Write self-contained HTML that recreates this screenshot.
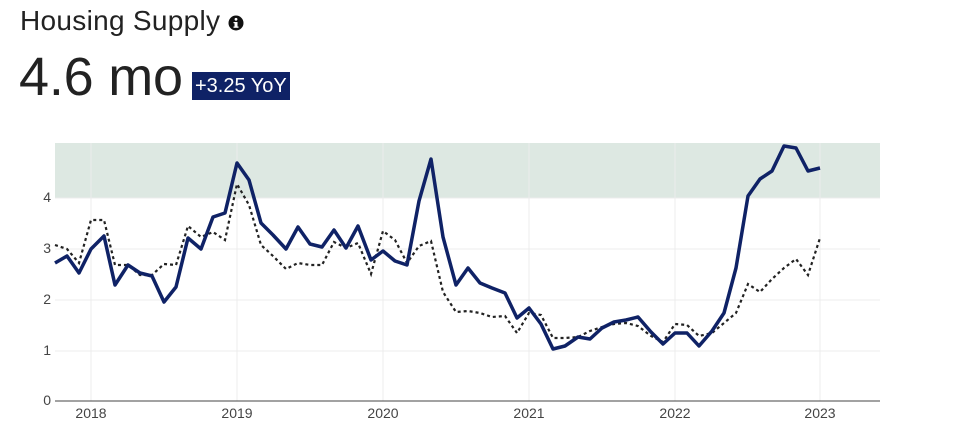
<!DOCTYPE html>
<html><head><style>
body{margin:0;background:#fff;font-family:"Liberation Sans","DejaVu Sans",sans-serif;}
.wrap{position:relative;width:970px;height:446px;overflow:hidden;}
.title{position:absolute;left:20px;top:5px;font-size:28px;color:#222;letter-spacing:0.3px;}
.big{position:absolute;left:19px;top:46px;font-size:54px;color:#222;letter-spacing:-0.2px;}
.badge{position:absolute;left:192px;top:72px;background:#0f2266;color:#fff;font-size:20px;padding:1px 3px;line-height:26px;}
</style></head><body><div class="wrap">
<div class="title">Housing Supply <svg width="16" height="16" viewBox="0 0 16 16" style="vertical-align:-1px"><circle cx="8" cy="8" r="7.5" fill="#111"/><circle cx="8" cy="4.3" r="1.4" fill="#fff"/><rect x="6.5" y="7" width="3" height="5.5" fill="#fff"/><rect x="5.5" y="11.5" width="5" height="1.3" fill="#fff"/><rect x="5.5" y="7" width="2.5" height="1.2" fill="#fff"/></svg></div>
<div class="big">4.6 mo</div>
<div class="badge">+3.25 YoY</div>
<svg width="970" height="446" style="position:absolute;left:0;top:0">
<rect x="55" y="143" width="825" height="55" fill="#dde8e2"/>
<g stroke="#ececec" stroke-width="1">
<line x1="55" x2="880" y1="351" y2="351"/><line x1="55" x2="880" y1="300" y2="300"/><line x1="55" x2="880" y1="249" y2="249"/><line x1="55" x2="880" y1="198" y2="198"/>
<line x1="91" x2="91" y1="143" y2="401"/><line x1="237" x2="237" y1="143" y2="401"/><line x1="383" x2="383" y1="143" y2="401"/><line x1="529" x2="529" y1="143" y2="401"/><line x1="675" x2="675" y1="143" y2="401"/><line x1="820" x2="820" y1="143" y2="401"/>
</g>
<line x1="55" x2="880" y1="401" y2="401" stroke="#444" stroke-width="1"/>
<g font-size="14" fill="#444" text-anchor="end">
<text x="51" y="405">0</text><text x="51" y="355">1</text><text x="51" y="304">2</text><text x="51" y="253">3</text><text x="51" y="202">4</text></g>
<g font-size="14" fill="#444" text-anchor="middle">
<text x="91" y="418">2018</text><text x="237" y="418">2019</text><text x="383" y="418">2020</text><text x="529" y="418">2021</text><text x="675" y="418">2022</text><text x="820" y="418">2023</text></g>
<polyline fill="none" stroke="#222" stroke-width="2.2" stroke-dasharray="3,3" points="55,245 67,249 79,263 91,220 104,220 115,265 128,265 140,275 152,275 164,264 176,265 188,226 201,237 213,232 225,240 237,184 249,205 261,245 273,256 286,269 298,263 310,265 322,265 334,242 346,248 358,243 371,274 383,231 395,240 407,263 419,246 431,241 443,292 456,312 468,311 480,313 492,317 505,316 517,333 529,313 541,315 553,338 565,338 578,337 590,331 602,327 614,324 626,323 638,326 651,336 663,342 675,324 687,325 699,336 712,333 724,323 736,313 748,284 760,292 772,279 784,268 796,259 808,275 820,238"/>
<polyline fill="none" stroke="#0f2266" stroke-width="3.5" stroke-linejoin="round" points="55,263 67,256 79,273 91,249 104,236 115,285 128,265 140,273 152,276 164,302 176,287 188,238 201,249 213,217 225,213 237,163 249,180 261,223 273,235 286,249 298,227 310,244 322,247 334,230 346,248 358,226 371,260 383,251 395,261 407,265 419,201 431,159 443,237 456,285 468,268 480,283 492,288 505,293 517,318 529,308 541,324 553,349 565,346 578,337 590,339 602,328 614,322 626,320 638,317 651,332 663,344 675,333 687,333 699,346 712,331 724,313 736,268 748,196 760,179 772,171 784,146 796,148 808,171 820,168"/>
</svg>
</div></body></html>
